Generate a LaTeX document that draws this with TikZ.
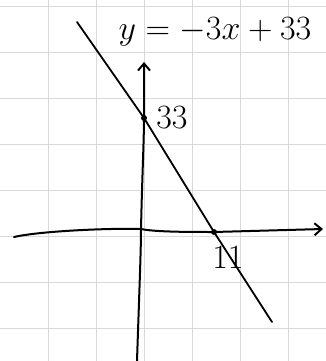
\RequirePackage{fix-cm}
\documentclass[tikz,border=0pt]{standalone}
\usepackage{amsmath}
\usepackage{tikz}
\usetikzlibrary{arrows.meta}

\begin{document}
\begin{tikzpicture}[x=1pt, y=-1pt, >={Straight Barb[length=7pt, width=12pt]},
		axis/.style={line width=2pt, line cap=round},
		graph/.style={line width=1.8pt, line cap=round},
		dot/.style={circle, fill=black, inner sep=0pt, minimum size=6pt},
		lbl/.style={font=\fontsize{34}{38}\selectfont}]
		\useasboundingbox (0,0) rectangle (326,361);
		% grid paper
		\foreach \gx in {48,96,...,288}
			\draw[gray!30, line width=0.8pt] (\gx,0) -- (\gx,361);
		\foreach \gy in {6,52,98,144,190,236,282,328}
			\draw[gray!30, line width=0.8pt] (0,\gy) -- (326,\gy);
		% points
		\node[dot] (yint) at (144,118) {};
		\node[dot] (xint) at (214,232) {};
		\coordinate (ytop) at (144,62);
		\coordinate (ybot) at (137,361);
		\coordinate (xleft) at (14,237);
		\coordinate (xright) at (323,229);
		\coordinate (lstart) at (77,22);
		\coordinate (lend) at (272,322);
		% axes
		\draw[axis,->] (ybot) .. controls (139,300) and (141,250) .. (141,230)
			.. controls (142,180) and (144,140) .. (yint.center) -- (ytop);
		\draw[axis,->] (xleft) .. controls (40,231) and (110,228) .. (141,229)
			.. controls (155,232) and (190,232) .. (xint.center) -- (xright);
		% the line
		\draw[graph] (lstart) -- (yint) -- (xint) -- (lend);
		% labels
		\node[lbl, anchor=west, inner sep=1pt] (ylab) at ([xshift=8pt]yint.east) {$33$};
		\node[lbl] (xlab) at (228,258) {$11$};
		\node[lbl] (eqn) at (215,32) {$y=-3x+33$};
	\end{tikzpicture}
\end{document}
